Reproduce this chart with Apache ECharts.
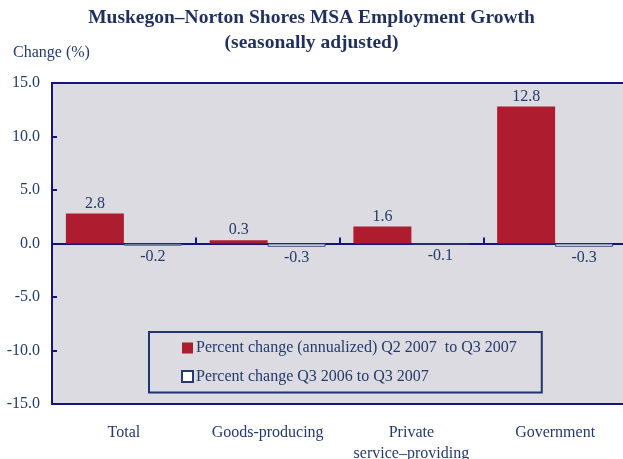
<!DOCTYPE html>
<html><head><meta charset="utf-8">
<script src="https://cdn.jsdelivr.net/npm/echarts@6/dist/echarts.min.js"></script>
<style>html,body{margin:0;padding:0;background:#fff}#c{width:623px;height:459px}</style>
</head><body><div id="c"></div>
<script>
const categories = ['Total', 'Goods-producing', 'Private\nservice\u2013providing', 'Government'];
const quarterly = [2.8, 0.3, 1.6, 12.8];
const yearly = [-0.2, -0.3, -0.1, -0.3];
const seriesNames = ['Percent change (annualized) Q2 2007  to Q3 2007', 'Percent change Q3 2006 to Q3 2007'];
const yMin = -15, yMax = 15, yStep = 5;

const navy = '#14147e';
const textC = '#243a6c';
const font = 'Liberation Serif';
const chart = echarts.init(document.getElementById('c'));
chart.setOption({
  backgroundColor: '#ffffff',
  animation: false,
  textStyle: { fontFamily: font },
  title: {
    text: 'Muskegon\u2013Norton Shores MSA Employment Growth\n(seasonally adjusted)',
    left: 'center', top: 0,
    textStyle: { fontFamily: font, fontWeight: 'bold', fontSize: 19.5, color: '#1f2f5f', lineHeight: 25 }
  },
  graphic: [{ type: 'text', left: 13, top: 45, style: { text: 'Change (%)', font: '16px "Liberation Serif"', fill: textC } }],
  legend: {
    orient: 'vertical', left: 149, top: 332,
    padding: [8, 25, 8, 32], itemGap: 12.5, itemWidth: 11, itemHeight: 11,
    borderColor: '#1f3570', borderWidth: 2, backgroundColor: 'transparent',
    selectedMode: false,
    textStyle: { fontFamily: font, fontSize: 16, lineHeight: 16, color: textC, padding: [0, 0, 0, -2] },
    data: [{ name: seriesNames[0], icon: 'rect' }, { name: seriesNames[1], icon: 'rect' }]
  },
  grid: [
    { left: 52, right: -4, top: 83, bottom: 55, outerBoundsMode: 'none', containLabel: false,
      show: true, backgroundColor: '#dcdbe1', borderColor: navy, borderWidth: 2 }
  ],
  xAxis: [
    { type: 'category', data: categories, axisLine: { onZero: true, lineStyle: { color: navy, width: 2 } },
      axisTick: { show: true, inside: true, length: 6, lineStyle: { color: navy, width: 2 } }, axisLabel: { show: false } },
    { type: 'category', data: categories, position: 'bottom', axisLine: { onZero: false, lineStyle: { color: navy, width: 2 } },
      axisTick: { show: false },
      axisLabel: { interval: 0, fontFamily: font, fontSize: 16, color: textC, margin: 18, lineHeight: 21 } }
  ],
  yAxis: [
    { type: 'value', min: yMin, max: yMax, interval: yStep,
      axisLine: { show: true, lineStyle: { color: navy, width: 2 } },
      axisTick: { show: true, inside: true, length: 5, lineStyle: { color: navy, width: 2 } },
      splitLine: { show: false },
      axisLabel: { fontFamily: font, fontSize: 16, color: textC, margin: 12, formatter: v => v.toFixed(1) } }
  ],
  series: [
    { name: seriesNames[0], type: 'bar', xAxisIndex: 0, data: quarterly, barWidth: 58, barGap: '0%',
      itemStyle: { color: '#ae1c2f' },
      label: { show: true, position: 'top', distance: 2, fontFamily: font, fontSize: 16, color: textC, formatter: p => p.value.toFixed(1) } },
    { name: seriesNames[1], type: 'bar', xAxisIndex: 0, data: yearly, barWidth: 58, barGap: '0%',
      itemStyle: { color: '#ffffff', borderColor: '#2a3a6e', borderWidth: 1 },
      label: { show: true, position: 'bottom', distance: 3, fontFamily: font, fontSize: 16, color: textC, formatter: p => p.value.toFixed(1) } }
  ]
});
</script></body></html>
